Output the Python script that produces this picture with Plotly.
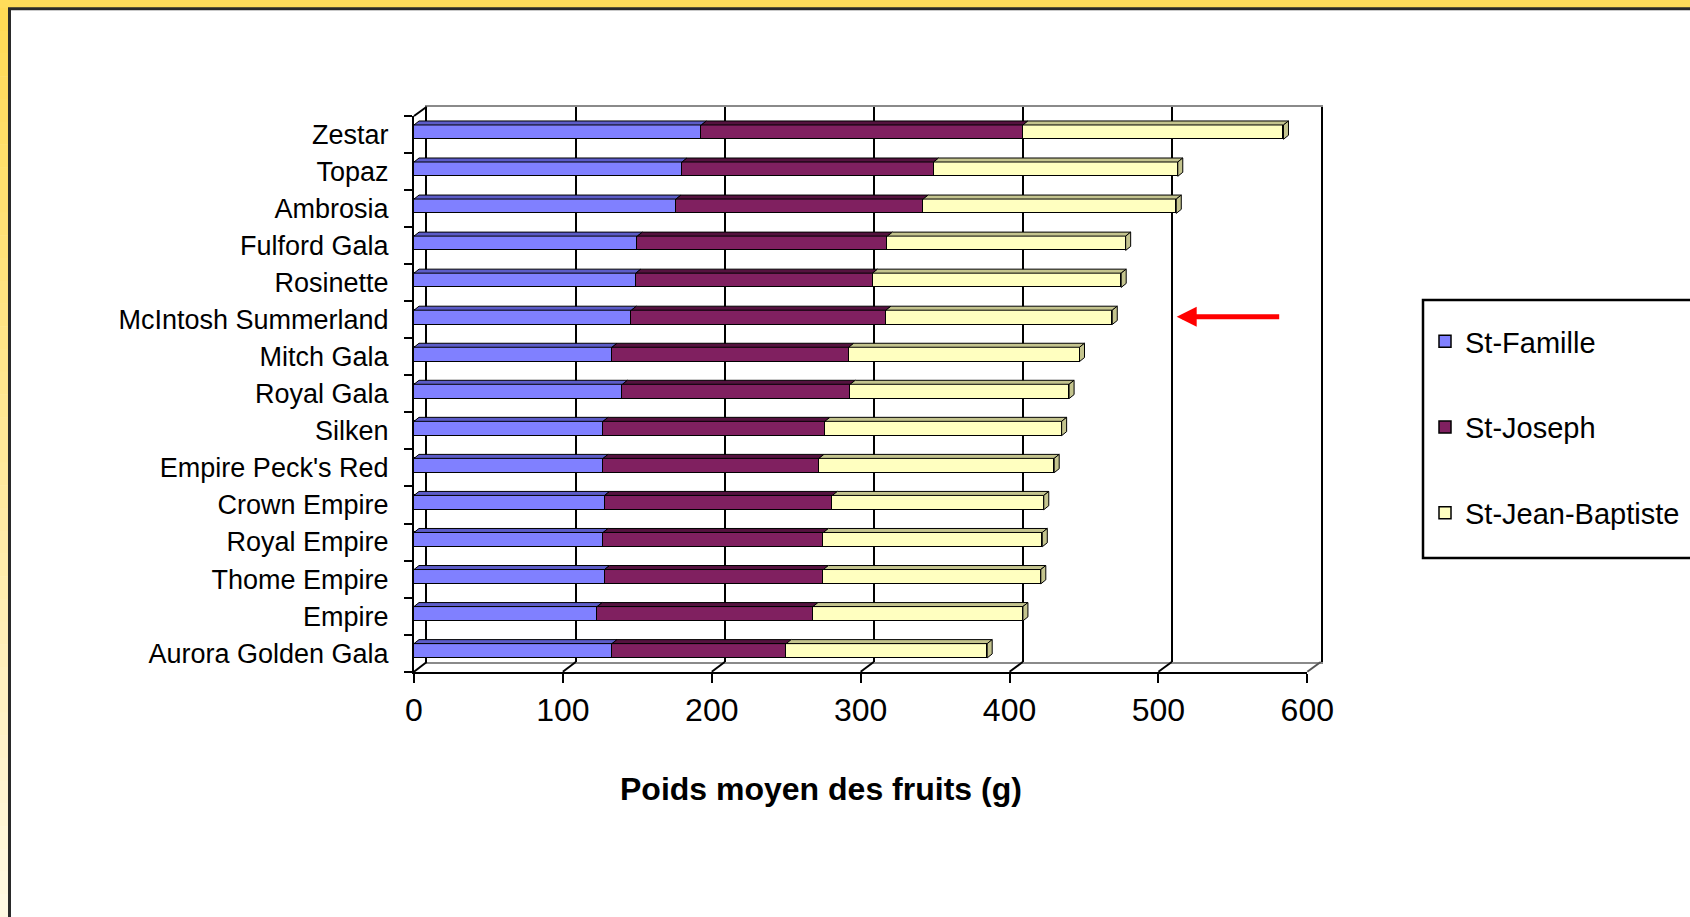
import plotly.graph_objects as go

# ---------------- data ----------------
cultivars = ["Zestar", "Topaz", "Ambrosia", "Fulford Gala", "Rosinette",
             "McIntosh Summerland", "Mitch Gala", "Royal Gala", "Silken",
             "Empire Peck's Red", "Crown Empire", "Royal Empire",
             "Thome Empire", "Empire", "Aurora Golden Gala"]
st_famille = [193, 180, 176, 150, 149, 146, 133, 140, 127, 127, 128, 127, 128, 123, 133]
st_joseph = [216, 169, 166, 168, 159, 171, 159, 153, 149, 145, 153, 148, 147, 145, 117]
st_jean_baptiste = [175, 164, 170, 160, 167, 152, 155, 147, 159, 158, 142, 147, 146, 141, 135]
series_names = ["St-Famille", "St-Joseph", "St-Jean-Baptiste"]
x_ticks = [0, 100, 200, 300, 400, 500, 600]
x_title = "Poids moyen des fruits (g)"

# ---------------- geometry (pixels) ----------------
W, H = 1690, 917
def px(x): return x / W
def py(y): return 1 - y / H

FRONT_X0, FRONT_X1 = 414, 1307.3
FRONT_Y0, FRONT_Y1 = 116, 671.7
BACK_X0, BACK_X1 = 426.7, 1320.7
BACK_Y0, BACK_Y1 = 106.7, 662
XMAX = x_ticks[-1]

n = len(cultivars)
ypos = list(range(n))
BAR_OFF, BAR_W = -0.258, 0.386
unit_x = (FRONT_X1 - FRONT_X0) / XMAX
unit_xb = (BACK_X1 - BACK_X0) / XMAX
unit_y = (FRONT_Y1 - FRONT_Y0) / n
DX = 5 / unit_x
DY = 4 / unit_y

FONT = "Liberation Sans, Arial, sans-serif"
colors = ["#8080FF", "#802060", "#FFFFC0"]
top_colors = ["#5C5CC8", "#55123F", "#C4C48E"]

fig = go.Figure()
# back wall subplot (grid only)
fig.add_trace(go.Scatter(x=[], y=[], xaxis="x", yaxis="y", showlegend=False,
                         hoverinfo="skip"))

values = [st_famille, st_joseph, st_jean_baptiste]
base = [0] * n
for k, (name, vals) in enumerate(zip(series_names, values)):
    fig.add_trace(go.Bar(
        y=ypos, x=vals, orientation="h", name=name,
        marker=dict(color=colors[k], line=dict(color="black", width=1.5)),
        width=BAR_W, offset=BAR_OFF, xaxis="x2", yaxis="y2",
        legendgroup=name, hoverinfo="x+name"))
    # top face of each segment (3D look)
    xs, ys = [], []
    for i in range(n):
        x0 = base[i]
        x1 = base[i] + vals[i]
        yt = ypos[i] + BAR_OFF
        xs += [x0, x1, x1 + DX, x0 + DX, x0, None]
        ys += [yt, yt, yt - DY, yt - DY, yt, None]
    fig.add_trace(go.Scatter(
        x=xs, y=ys, mode="lines", fill="toself", fillcolor=top_colors[k],
        line=dict(color="black", width=1), xaxis="x2", yaxis="y2",
        showlegend=False, hoverinfo="skip"))
    base = [b + v for b, v in zip(base, vals)]

# end face of the total bars
xs, ys = [], []
for i in range(n):
    x1 = base[i]
    yt = ypos[i] + BAR_OFF
    yb = yt + BAR_W
    xs += [x1, x1 + DX, x1 + DX, x1, x1, None]
    ys += [yt, yt - DY, yb - DY, yb, yt, None]
fig.add_trace(go.Scatter(
    x=xs, y=ys, mode="lines", fill="toself", fillcolor=top_colors[2],
    line=dict(color="black", width=1), xaxis="x2", yaxis="y2",
    showlegend=False, hoverinfo="skip"))

# ---------------- decorations ----------------
shapes = []
# yellow frame
shapes.append(dict(type="rect", xref="paper", yref="paper", x0=0, x1=1,
                   y0=py(8), y1=1, fillcolor="#FFDC5A", line_width=0, layer="below"))
NB = 40
c0 = (0xFF, 0xDA, 0x55)
c1 = (0xFF, 0xF9, 0xE3)
for b in range(NB):
    t = b / (NB - 1)
    c = tuple(int(round(c0[j] + (c1[j] - c0[j]) * t)) for j in range(3))
    shapes.append(dict(type="rect", xref="paper", yref="paper", x0=0, x1=px(8.5),
                       y0=py(8 + (H - 8) * (b + 1) / NB + 0.5), y1=py(8 + (H - 8) * b / NB),
                       fillcolor="rgb(%d,%d,%d)" % c, line_width=0, layer="below"))
shapes.append(dict(type="path", xref="paper", yref="paper",
                   path="M %f %f L %f %f L %f %f" % (px(9.5), 0, px(9.5), py(8.7), 1.0, py(8.7)),
                   line=dict(color="#2a2a2a", width=3), layer="below"))
# legend frame
shapes.append(dict(type="rect", xref="paper", yref="paper", x0=px(1423), x1=px(1710),
                   y0=py(558), y1=py(300), fillcolor="white",
                   line=dict(color="black", width=2.5), layer="below"))
# floor diagonals
for v in x_ticks:
    shapes.append(dict(type="line", xref="paper", yref="paper",
                       x0=px(FRONT_X0 + v * unit_x), y0=py(FRONT_Y1),
                       x1=px(BACK_X0 + v * unit_xb), y1=py(BACK_Y1),
                       line=dict(color="black" if v < XMAX else "#555555", width=2)))
# left wall top diagonal
shapes.append(dict(type="line", xref="paper", yref="paper",
                   x0=px(FRONT_X0), y0=py(FRONT_Y0), x1=px(BACK_X0), y1=py(BACK_Y0),
                   line=dict(color="black", width=2)))

annotations = [
    dict(text="<b>" + x_title + "</b>", xref="paper", yref="paper",
         x=px(821), y=py(809), showarrow=False, font=dict(size=32, color="black", family=FONT)),
    dict(text="", xref="paper", yref="paper", x=px(1176.7), y=py(316.7),
         ax=104, ay=0, showarrow=True, arrowhead=2, arrowsize=0.8, arrowwidth=5,
         arrowcolor="#FF0000", standoff=0),
]

fig.update_layout(
    width=W, height=H,
    margin=dict(l=0, r=0, t=0, b=0, autoexpand=False),
    paper_bgcolor="white", plot_bgcolor="rgba(0,0,0,0)",
    font=dict(family=FONT, color="black"),
    barmode="stack", bargap=0,
    showlegend=True,
    legend=dict(x=px(1425), y=py(316), xanchor="left", yanchor="top",
                bgcolor="rgba(0,0,0,0)", borderwidth=0,
                font=dict(size=29, family=FONT, color="black"),
                traceorder="grouped", tracegroupgap=45),
    xaxis=dict(domain=[px(BACK_X0), px(BACK_X1)], range=[0, XMAX], anchor="y",
               tickmode="array", tickvals=x_ticks, showgrid=True, gridcolor="black",
               gridwidth=2, showticklabels=False, ticks="", zeroline=False,
               showline=True, linecolor="#8a8a8a", linewidth=2, mirror=True,
               fixedrange=True),
    yaxis=dict(domain=[py(BACK_Y1), py(BACK_Y0)], range=[0, 1], anchor="x",
               showgrid=False, showticklabels=False, ticks="", zeroline=False,
               showline=True, linecolor="black", linewidth=2, mirror=True,
               fixedrange=True),
    xaxis2=dict(domain=[px(FRONT_X0), px(FRONT_X1)], range=[0, XMAX], anchor="y2",
                tickmode="array", tickvals=x_ticks, showgrid=False, ticks="outside",
                ticklen=9, tickwidth=2, tickcolor="black", showline=True,
                linecolor="black", linewidth=2, zeroline=False,
                tickfont=dict(size=32, family=FONT, color="black"), fixedrange=True),
    yaxis2=dict(domain=[py(FRONT_Y1), py(FRONT_Y0)], range=[n - 0.5, -0.5], anchor="x2",
                tickmode="array", tickvals=ypos, ticktext=cultivars, ticks="",
                ticklabelstandoff=18,
                minor=dict(tickmode="array", tickvals=[i - 0.5 for i in range(n + 1)],
                           ticks="outside", ticklen=8, tickwidth=2, tickcolor="black",
                           showgrid=False),
                showline=True, linecolor="black", linewidth=2, showgrid=False,
                zeroline=False, tickfont=dict(size=27, family=FONT, color="black"),
                fixedrange=True),
    shapes=shapes, annotations=annotations,
)

fig.write_html("out.html", config={"displayModeBar": False},
               post_script="document.body.style.margin='0';")
